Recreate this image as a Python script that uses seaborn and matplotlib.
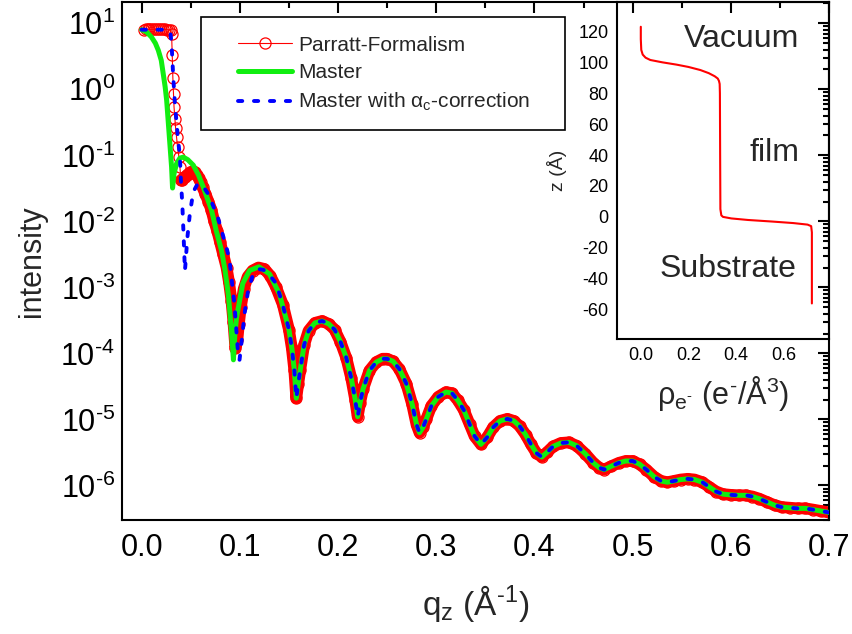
import numpy as np
import matplotlib
matplotlib.use('Agg')
import matplotlib.pyplot as plt
from matplotlib.lines import Line2D
from matplotlib.patches import Rectangle
from matplotlib.ticker import (MultipleLocator, LogLocator, FixedLocator, FuncFormatter,
                               FormatStrFormatter, NullFormatter)
import seaborn as sns

# ============================================================
# Data
# ============================================================
# Parratt formalism, low-q part
q_parratt_low = [0.002, 0.004, 0.006, 0.008, 0.010, 0.012, 0.014, 0.016, 0.018, 0.020,
                 0.022, 0.024, 0.026, 0.028, 0.0295, 0.0305, 0.0312, 0.0318, 0.0325, 0.0330,
                 0.0339, 0.0346, 0.0356, 0.0366, 0.0380, 0.0390, 0.0400, 0.0412, 0.0425, 0.044,
                 0.046, 0.048, 0.050, 0.052, 0.054, 0.056, 0.058, 0.060, 0.062, 0.065,
                 0.068, 0.071, 0.074, 0.077, 0.080, 0.083, 0.0865, 0.089, 0.0915, 0.0935,
                 0.0955, 0.0975, 0.099, 0.101, 0.104, 0.108, 0.113, 0.119, 0.125, 0.131,
                 0.137, 0.1438]
I_parratt_low = [8.0, 8.1, 8.1, 8.1, 8.1, 8.1, 8.1, 8.1, 8.1, 8.1,
                 8.1, 8.1, 8.0, 8.0, 7.9, 7.0, 3.3, 1.5, 0.84, 0.54,
                 0.36, 0.26, 0.19, 0.134, 0.094, 0.067, 0.042, 0.043, 0.045, 0.047,
                 0.050, 0.053, 0.056, 0.057, 0.055, 0.051, 0.045, 0.039, 0.033, 0.026,
                 0.020, 0.015, 0.010, 7.2e-3, 4.8e-3, 3.2e-3, 2.0e-3, 1.2e-3, 6.3e-4, 3.0e-4,
                 1.2e-4, 1.6e-4, 2.8e-4, 5.0e-4, 9.5e-4, 1.45e-3, 1.8e-3, 2.0e-3, 1.9e-3, 1.5e-3,
                 1.0e-3, 5.5e-4]

# Master, low-q part
q_master_low = [0.000, 0.005, 0.010, 0.014, 0.017, 0.020, 0.022, 0.024, 0.0255, 0.027,
                0.028, 0.029, 0.0305, 0.0315, 0.033, 0.0356, 0.039, 0.0424, 0.047, 0.0526,
                0.058, 0.0628, 0.067, 0.0712, 0.076, 0.0814, 0.085, 0.0882, 0.0900, 0.0916,
                0.0935, 0.0950, 0.0965, 0.098, 0.100, 0.103, 0.1099, 0.1194, 0.1302, 0.1404]
I_master_low = [8.0, 7.4, 6.2, 5.0, 3.9, 2.75, 1.73, 1.08, 0.68, 0.34,
                0.214, 0.134, 0.067, 0.032, 0.053, 0.075, 0.091, 0.094, 0.086, 0.071,
                0.050, 0.033, 0.022, 0.0148, 7.2e-3, 3.6e-3, 1.8e-3, 8.0e-4, 4.0e-4, 2.0e-4,
                8.0e-5, 2.0e-4, 3.3e-4, 4.5e-4, 6.5e-4, 1.15e-3, 1.8e-3, 2.05e-3, 1.6e-3, 7.9e-4]

# Master with alpha_c-correction, low-q part
q_corr_low = [0.000, 0.010, 0.020, 0.026, 0.028, 0.0295, 0.0305, 0.0322, 0.0339, 0.0366,
              0.039, 0.040, 0.0414, 0.0424, 0.0434, 0.0441, 0.0448, 0.0465, 0.0491, 0.0526,
              0.057, 0.062, 0.0678, 0.073, 0.078, 0.083, 0.0865, 0.0895, 0.0922, 0.0946,
              0.0963, 0.098, 0.0997, 0.1024, 0.1048, 0.1082, 0.113, 0.1183, 0.124, 0.130,
              0.137, 0.1438]
I_corr_low = [8.0, 8.0, 8.0, 8.0, 7.8, 6.8, 4.9, 1.55, 0.61, 0.21,
              0.094, 0.042, 0.0187, 8.2e-3, 3.2e-3, 1.8e-3, 2.4e-3, 5.5e-3, 0.013, 0.028,
              0.037, 0.035, 0.026, 0.017, 0.011, 6.0e-3, 4.0e-3, 2.6e-3, 1.15e-3, 5.4e-4,
              2.5e-4, 1.1e-4, 8.0e-5, 1.8e-4, 4.0e-4, 8.5e-4, 1.5e-3, 1.9e-3, 1.85e-3, 1.55e-3,
              1.15e-3, 5.4e-4]

# Kiessig fringes, where all three curves coincide
q_tail = [0.150, 0.153, 0.1555, 0.1575, 0.1595, 0.1615, 0.1655, 0.170, 0.1765, 0.1838,
          0.1905, 0.1965, 0.2025, 0.2085, 0.2135, 0.2175, 0.2200, 0.2225, 0.2255, 0.2320,
          0.2390, 0.2455, 0.2500, 0.2560, 0.2625, 0.2695, 0.2755, 0.2800, 0.2830, 0.2865,
          0.2900, 0.2950, 0.3020, 0.3100, 0.3160, 0.3220, 0.3280, 0.3340, 0.3390, 0.3455,
          0.3520, 0.3580, 0.3650, 0.3725, 0.3790, 0.3850, 0.3910, 0.3965, 0.4020, 0.4075,
          0.4130, 0.4190, 0.4270, 0.4350, 0.4430, 0.4520, 0.4600, 0.4660, 0.4710, 0.4780,
          0.4860, 0.4930, 0.5000, 0.5070, 0.5140, 0.5220, 0.5290, 0.5355, 0.5420, 0.5490,
          0.5560, 0.5630, 0.5710, 0.5780, 0.5850, 0.5920, 0.6000, 0.6080, 0.6150, 0.6220,
          0.6290, 0.6370, 0.6450, 0.6520, 0.6600, 0.6680, 0.6760, 0.6840, 0.6920, 0.7000]
I_tail = [2.3e-4, 1.2e-4, 5.6e-5, 2.1e-5, 3.5e-5, 5.6e-5, 1.35e-4, 2.2e-4, 2.9e-4, 3.1e-4,
          2.8e-4, 2.3e-4, 1.5e-4, 8.5e-5, 4.2e-5, 2.0e-5, 1.1e-5, 1.8e-5, 2.9e-5, 5.5e-5,
          7.4e-5, 8.3e-5, 8.3e-5, 7.6e-5, 5.8e-5, 3.5e-5, 1.7e-5, 8.3e-6, 6.3e-6, 7.6e-6,
          1.02e-5, 1.6e-5, 2.2e-5, 2.6e-5, 2.5e-5, 1.95e-5, 1.4e-5, 8.5e-6, 5.6e-6, 4.2e-6,
          5.4e-6, 7.6e-6, 9.5e-6, 1.02e-5, 9.5e-6, 7.9e-6, 5.9e-6, 4.2e-6, 3.1e-6, 2.7e-6,
          3.2e-6, 3.9e-6, 4.4e-6, 4.5e-6, 4.0e-6, 3.0e-6, 2.2e-6, 1.86e-6, 1.74e-6, 1.95e-6,
          2.2e-6, 2.35e-6, 2.35e-6, 2.1e-6, 1.74e-6, 1.35e-6, 1.17e-6, 1.12e-6, 1.17e-6, 1.23e-6,
          1.26e-6, 1.23e-6, 1.12e-6, 9.5e-7, 8.1e-7, 7.4e-7, 7.2e-7, 7.1e-7, 7.1e-7, 6.8e-7,
          6.3e-7, 5.6e-7, 5.0e-7, 4.7e-7, 4.6e-7, 4.5e-7, 4.5e-7, 4.3e-7, 4.1e-7, 3.9e-7]

# labelled decades on the intensity axis
y_decades = [1e-6, 1e-5, 1e-4, 1e-3, 1e-2, 1e-1, 1e0, 1e1]

# Inset: electron density profile
rho_profile = [0.000, 0.000, 0.002, 0.008, 0.020, 0.040, 0.090, 0.150, 0.200, 0.250,
               0.285, 0.310, 0.323, 0.328, 0.331, 0.332, 0.333, 0.334, 0.338, 0.345,
               0.380, 0.450, 0.550, 0.640, 0.700, 0.715, 0.718, 0.718, 0.718]
z_profile = [123, 115, 108, 105, 103, 101.5, 100, 98.5, 97, 95,
             93, 91, 89.5, 88, 86, 80, 40, 5, 1, 0,
             -1, -2, -3, -4, -5, -6, -10, -30, -56]

q_parratt = q_parratt_low + q_tail
I_parratt = I_parratt_low + I_tail
q_master = q_master_low + q_tail
I_master = I_master_low + I_tail
q_corr = q_corr_low + q_tail
I_corr = I_corr_low + I_tail

# ============================================================
# Style
# ============================================================
sns.set_style('white')
plt.rcParams['font.family'] = ['Liberation Sans', 'DejaVu Sans']
plt.rcParams['mathtext.fontset'] = 'custom'
plt.rcParams['mathtext.rm'] = 'Liberation Sans'
plt.rcParams['mathtext.it'] = 'Liberation Sans:italic'
plt.rcParams['mathtext.bf'] = 'Liberation Sans:bold'
plt.rcParams['mathtext.sf'] = 'Liberation Sans'
plt.rcParams['mathtext.default'] = 'regular'
plt.rcParams['axes.unicode_minus'] = False

RED = '#ff0000'
GREEN = '#11ee11'
BLUE = '#0000ff'

fig = plt.figure(figsize=(8.53, 6.34), dpi=100)
ax = fig.add_axes([0.1430, 0.1798, 0.8289, 0.8170])

# dense marker band of the Parratt curve (markers overlap to a solid band)
band = [(q, i) for q, i in zip(q_parratt, I_parratt) if q >= 0.040]
sns.lineplot(x=[b[0] for b in band], y=[b[1] for b in band], ax=ax, sort=False,
             estimator=None, color=RED, lw=8.5, solid_capstyle='round', zorder=1)
sns.lineplot(x=q_parratt, y=I_parratt, ax=ax, sort=False, estimator=None,
             color=RED, lw=0.8, marker='o', markersize=8, mfc='none', mec=RED,
             mew=0.9, zorder=2)
sns.lineplot(x=q_master, y=I_master, ax=ax, sort=False, estimator=None,
             color=GREEN, lw=3.6, zorder=3)
sns.lineplot(x=q_corr, y=I_corr, ax=ax, sort=False, estimator=None,
             color=BLUE, lw=2.8, linestyle=(0, (1.1, 3.0)), dash_capstyle='round',
             zorder=4)

ax.set_yscale('log')
ax.set_xlim(-0.02, 0.7)
ax.set_ylim(3e-7, 21)
ax.xaxis.set_major_locator(MultipleLocator(0.1))
ax.xaxis.set_minor_locator(MultipleLocator(0.05))
ax.xaxis.set_major_formatter(FormatStrFormatter('%.1f'))
ax.yaxis.set_major_locator(FixedLocator(y_decades))
ax.yaxis.set_minor_locator(LogLocator(base=10, subs=np.arange(2, 10), numticks=20))
ax.yaxis.set_minor_formatter(NullFormatter())


def log_label(v, pos):
    e = int(round(np.log10(v)))
    if e < 0:
        return r'$10^{\text{-}%d}$' % (-e)
    return r'$10^{%d}$' % e


ax.yaxis.set_major_formatter(FuncFormatter(log_label))
ax.tick_params(which='both', direction='in', top=True, right=True, width=1.5,
               colors='black')
ax.tick_params(which='major', length=8, labelsize=22)
ax.tick_params(axis='x', which='major', pad=9)
ax.tick_params(axis='y', which='major', pad=5)
ax.tick_params(which='minor', length=4)
for s in ax.spines.values():
    s.set_linewidth(1.5)
    s.set_color('black')

ax.set_xlabel(r'q$_{\rm z}$ (Å$^{\text{-}1}$)', fontsize=24, labelpad=15)
ax.set_ylabel('intensity', fontsize=22, labelpad=10)

# legend with a hand-drawn frame
ax.add_patch(Rectangle((0.1117, 0.753), 0.5149, 0.218, transform=ax.transAxes,
                       fill=False, ec='black', lw=1.2, zorder=5))
handles = [
    Line2D([], [], color=RED, lw=0.8, marker='o', markersize=8, mfc='none', mew=0.9),
    Line2D([], [], color=GREEN, lw=3.6),
    Line2D([], [], color=BLUE, lw=2.8, linestyle=(0, (1.1, 3.0)), dash_capstyle='round'),
]
labels = ['Parratt-Formalism', 'Master', r'Master with $\alpha_{\rm c}$-correction']
ax.legend(handles, labels, loc='upper left', bbox_to_anchor=(0.164, 0.935),
          frameon=False, fontsize=15, borderpad=0, borderaxespad=0,
          handlelength=2.6, handletextpad=0.3, labelspacing=0.42)

# ============================================================
# Inset: density profile
# ============================================================
axi = fig.add_axes([0.7233, 0.4653, 0.2486, 0.5315])
axi.patch.set_alpha(0)
sns.lineplot(x=rho_profile, y=z_profile, ax=axi, sort=False, estimator=None,
             color=RED, lw=1.5)
axi.set_xlim(-0.1, 0.79)
axi.set_ylim(-79, 139)
axi.xaxis.set_major_locator(MultipleLocator(0.2))
axi.xaxis.set_minor_locator(MultipleLocator(0.1))
axi.xaxis.set_major_formatter(FormatStrFormatter('%.1f'))
axi.yaxis.set_major_locator(MultipleLocator(20))
axi.yaxis.set_minor_locator(MultipleLocator(10))
axi.tick_params(which='both', direction='out', top=False, right=False, width=1.2,
                labelsize=13, colors='black')
axi.tick_params(which='major', length=4, pad=2)
axi.tick_params(which='minor', length=2.5)
for s in axi.spines.values():
    s.set_linewidth(1.5)
    s.set_color('black')
axi.set_xlabel('ρ$_{\\mathrm{e}^{\\text{-}}}$ (e$^{\\text{-}}$/Å$^{3}$)', fontsize=22, labelpad=7)
axi.set_ylabel('z (Å)', fontsize=14, labelpad=8)

axi.text(0.667, 110, 'Vacuum', fontsize=23, ha='right', va='baseline')
axi.text(0.667, 36, 'film', fontsize=23, ha='right', va='baseline')
axi.text(0.655, -39, 'Substrate', fontsize=23, ha='right', va='baseline')

fig.savefig('out.png', dpi=100)
plt.close(fig)
